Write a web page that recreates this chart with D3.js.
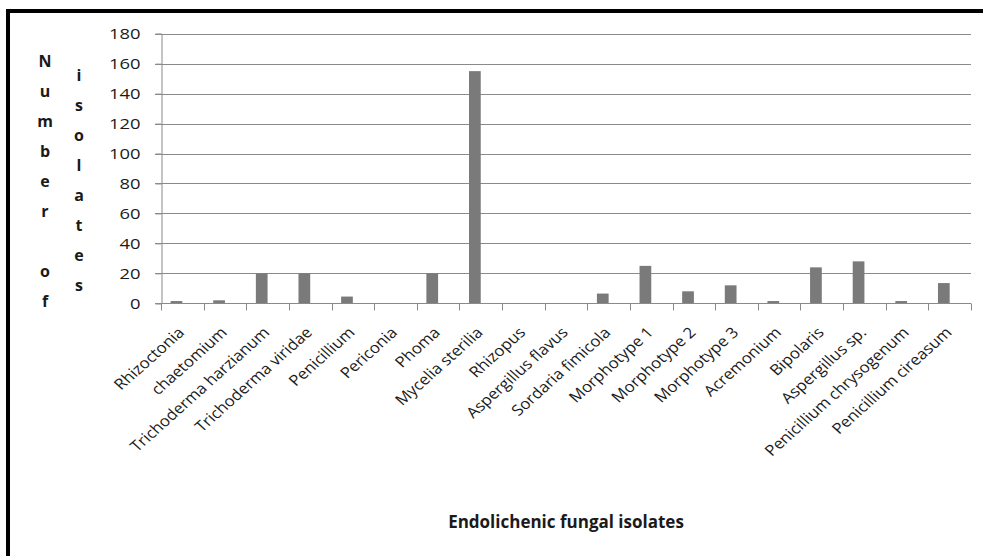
<!DOCTYPE html>
<html>
<head>
<meta charset="utf-8">
<script src="https://cdn.jsdelivr.net/npm/d3@7"></script>
<style>
  html, body { margin: 0; padding: 0; background: #fff; }
  svg { display: block; }
  text { font-family: "Open Sans", sans-serif; fill: #1a1a1a; }
</style>
</head>
<body>
<svg id="chart" width="983" height="556"></svg>
<script>
const categories = ["Rhizoctonia", "chaetomium", "Trichoderma harzianum", "Trichoderma viridae",
  "Penicillium", "Periconia", "Phoma", "Mycelia sterilia", "Rhizopus", "Aspergillus flavus",
  "Sordaria fimicola", "Morphotype 1", "Morphotype 2", "Morphotype 3", "Acremonium",
  "Bipolaris", "Aspergillus sp.", "Penicillium chrysogenum", "Penicillium cireasum"];
const isolates = [1.5, 2, 20, 20, 4.5, 0, 20, 155, 0, 0, 6.5, 25, 8, 12, 1.5, 24, 28, 1.5, 13.5];
const yTicks = [0, 20, 40, 60, 80, 100, 120, 140, 160, 180];
const xTitle = "Endolichenic fungal isolates";
const yTitle = "Number of isolates";

const svg = d3.select("#chart");
const SX = 1.12; // slight horizontal stretch seen in the reference glyphs

// outer frame
svg.append("rect").attr("x", 8).attr("y", 11).attr("width", 1000).attr("height", 600)
  .attr("fill", "none").attr("stroke", "#000").attr("stroke-width", 4);

const x = d3.scaleBand().domain(categories).range([161, 971]).padding(0);
const y = d3.scaleLinear().domain([0, 180]).range([303.3, 33.7]);
const gridColor = "#8a8a8a";

// gridlines
svg.append("g").selectAll("line").data(yTicks).join("line")
  .attr("x1", 155).attr("x2", 971)
  .attr("y1", d => Math.round(y(d)) + 0.5).attr("y2", d => Math.round(y(d)) + 0.5)
  .attr("stroke", gridColor).attr("stroke-width", 1);

// y axis
const yAxis = svg.append("g").attr("transform", "translate(161.5,0)")
  .call(d3.axisLeft(y).tickValues(yTicks).tickSize(6).tickPadding(15).tickFormat(d3.format("d")));
yAxis.select(".domain").attr("stroke", gridColor);
yAxis.selectAll(".tick line").attr("stroke", gridColor);
yAxis.selectAll(".tick text")
  .attr("font-size", 14.5).attr("fill", "#1a1a1a").attr("font-family", "Open Sans, sans-serif")
  .attr("x", null).attr("dy", "0.36em")
  .attr("transform", `translate(-21,0) scale(1.27,1)`);

// bars (clustered layout: bar sits left of band centre)
const bw = x.bandwidth() * 0.275;
svg.append("g").selectAll("rect").data(categories).join("rect")
  .attr("x", d => x(d) + x.bandwidth() / 2 - bw)
  .attr("width", bw)
  .attr("y", (d, i) => y(isolates[i]))
  .attr("height", (d, i) => y(0) - y(isolates[i]))
  .attr("fill", "#7a7a7a");

// x axis
const xAxisY = Math.round(y(0)) + 0.5;
svg.append("line").attr("x1", 161).attr("x2", 971).attr("y1", xAxisY).attr("y2", xAxisY)
  .attr("stroke", gridColor);
const bounds = categories.map(c => x(c)).concat([x.range()[1]]);
svg.append("g").selectAll("line").data(bounds).join("line")
  .attr("x1", d => Math.round(d) + 0.5).attr("x2", d => Math.round(d) + 0.5)
  .attr("y1", xAxisY).attr("y2", xAxisY + 7)
  .attr("stroke", gridColor);

// category labels rotated (with the same horizontal stretch)
svg.append("g").selectAll("text").data(categories).join("text")
  .attr("transform", d => `translate(${x(d) + x.bandwidth() / 2 + 3},${xAxisY + 30}) scale(${SX},1) rotate(-45)`)
  .attr("text-anchor", "end")
  .attr("font-size", 15)
  .text(d => d);

// x title
svg.append("text").attr("x", 566).attr("y", 528).attr("text-anchor", "middle")
  .attr("font-size", 17).attr("font-weight", "bold").text(xTitle);

// y title: stacked letters in two interleaved columns
const words = yTitle.split(" ");
const col1 = (words[0] + " " + words[1]).split("");
const col2 = words[2].split("");
const letters = svg.append("g").attr("font-weight", "bold").attr("font-size", 16).attr("text-anchor", "middle");
letters.selectAll("text.c1").data(col1).join("text").attr("class", "c1")
  .attr("x", 45).attr("y", (d, i) => 67 + i * 30).text(d => d);
letters.selectAll("text.c2").data(col2).join("text").attr("class", "c2")
  .attr("x", 79).attr("y", (d, i) => 81 + i * 30).text(d => d);
</script>
</body>
</html>
